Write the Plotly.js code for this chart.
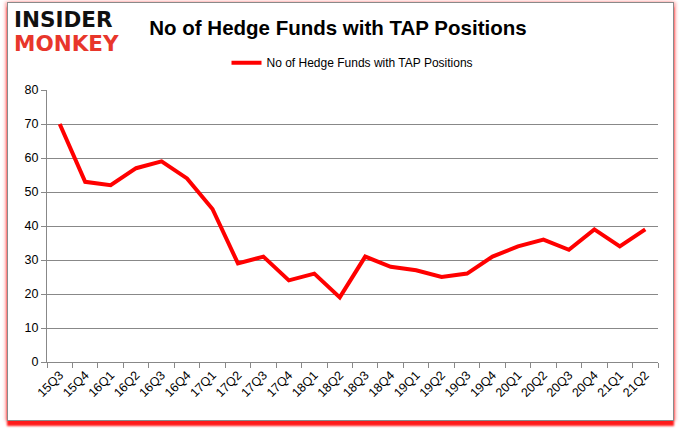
<!DOCTYPE html>
<html>
<head>
<meta charset="utf-8">
<script src="https://cdn.plot.ly/plotly-3.0.1.min.js"></script>
<style>
html,body{margin:0;padding:0;background:#fff;}
#wrap{position:relative;width:680px;height:433px;}
#chart{position:absolute;left:0;top:0;width:680px;height:433px;}
#frame{position:absolute;left:7px;top:2px;width:665px;height:417px;border:1px solid #8a8a8a;
  box-shadow:0 5px 2px #ff1a1a, -2px 0 3px rgba(255,120,120,0.6), 2px 0 3px rgba(255,120,120,0.6);pointer-events:none;}
</style>
</head>
<body>
<div id="wrap"><div id="frame"></div><div id="chart"></div></div>
<script>
const quarters = ["15Q3","15Q4","16Q1","16Q2","16Q3","16Q4","17Q1","17Q2","17Q3","17Q4","18Q1","18Q2","18Q3","18Q4","19Q1","19Q2","19Q3","19Q4","20Q1","20Q2","20Q3","20Q4","21Q1","21Q2"];
const hedgeFunds = [70,53,52,57,59,54,45,29,31,24,26,19,31,28,27,25,26,31,34,36,33,39,34,39];
const seriesName = "No of Hedge Funds with TAP Positions";
const chartTitle = "No of Hedge Funds with TAP Positions";

const trace = {
  x: quarters, y: hedgeFunds, type: "scatter", mode: "lines", name: seriesName,
  line: {color: "#ff0000", width: 4}
};
const font = "Liberation Sans, Arial, sans-serif";
const layout = {
  width: 680, height: 433,
  margin: {l: 47, r: 22, t: 90, b: 71},
  paper_bgcolor: "rgba(0,0,0,0)", plot_bgcolor: "rgba(0,0,0,0)",
  title: {text: "<b>" + chartTitle + "</b>", x: 0.497, xanchor: "center", y: 0.935, yanchor: "middle",
    font: {family: font, size: 20.5, color: "#000"}},
  showlegend: true,
  legend: {orientation: "h", x: 0.5, xanchor: "center", y: 1.10, yanchor: "middle",
    font: {family: font, size: 12, color: "#000"}, bgcolor: "rgba(0,0,0,0)"},
  xaxis: {type: "category", range: [-0.5, 23.5], tickson: "boundaries", ticks: "outside", ticklen: 5,
    tickcolor: "#888", showline: true, linecolor: "#888", linewidth: 1, showgrid: false, tickangle: -45,
    tickfont: {family: font, size: 12.5, color: "#000"}, zeroline: false, fixedrange: true},
  yaxis: {range: [0, 80], dtick: 10, ticks: "outside", ticklen: 5, tickcolor: "#888", showline: true,
    linecolor: "#888", linewidth: 1, showgrid: true, gridcolor: "#888", gridwidth: 1, zeroline: false,
    tickfont: {family: font, size: 12.5, color: "#000"}, fixedrange: true},
  annotations: [
    {text: "<b>INSIDER</b>", xref: "paper", yref: "paper", x: -0.058, y: 1.26, xanchor: "left", yanchor: "middle",
      showarrow: false, font: {family: "DejaVu Sans, sans-serif", size: 21.5, color: "#111"}},
    {text: "<b>MONKEY</b>", xref: "paper", yref: "paper", x: -0.058, y: 1.172, xanchor: "left", yanchor: "middle",
      showarrow: false, font: {family: "DejaVu Sans, sans-serif", size: 21.5, color: "#e8362b"}}
  ]
};
Plotly.newPlot("chart", [trace], layout, {displayModeBar: false, staticPlot: true});
</script>
</body>
</html>
